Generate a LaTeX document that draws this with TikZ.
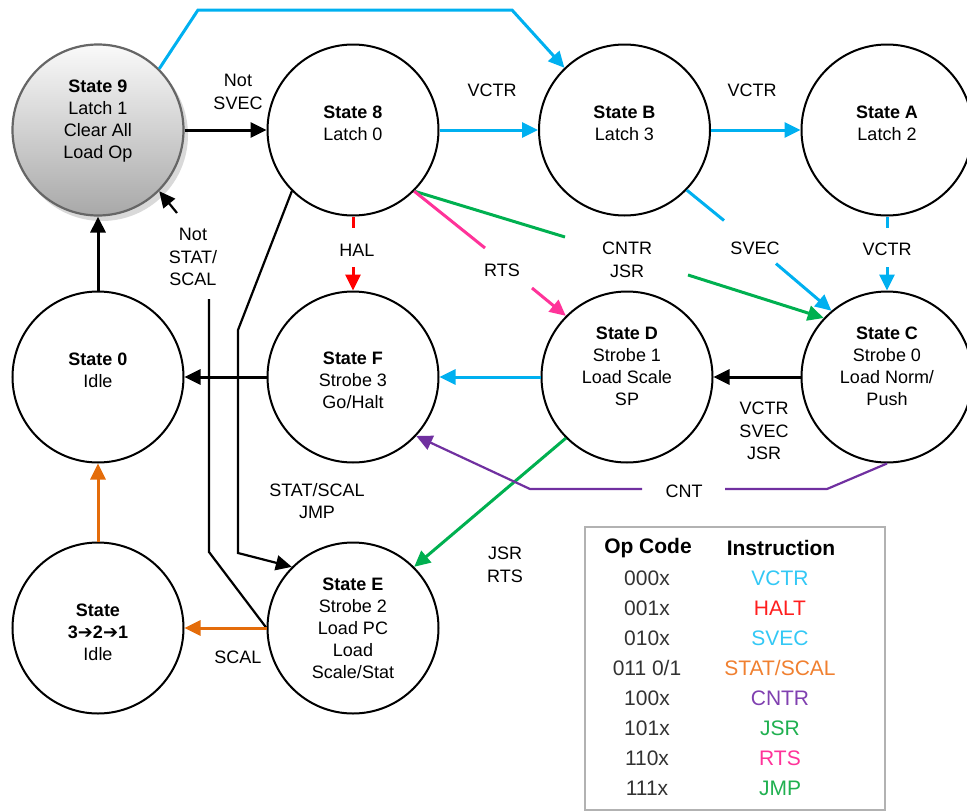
\documentclass[tikz,border=0pt]{standalone}
\usepackage{fontspec}
\setmainfont{Liberation Sans}
\newfontfamily\arrowfont{DejaVu Sans}
\usetikzlibrary{arrows.meta}

\definecolor{vblue}{RGB}{0,176,240}
\definecolor{hred}{RGB}{255,0,0}
\definecolor{rpink}{RGB}{255,51,153}
\definecolor{jgreen}{RGB}{0,176,80}
\definecolor{cpurple}{RGB}{112,48,160}
\definecolor{sorange}{RGB}{228,108,10}
\definecolor{tblue}{RGB}{51,200,245}
\definecolor{tred}{RGB}{255,30,30}
\definecolor{torange}{RGB}{240,128,48}
\definecolor{tpurple}{RGB}{128,64,176}
\definecolor{tgreen}{RGB}{32,176,80}
\definecolor{tpink}{RGB}{255,51,153}
\definecolor{tcode}{RGB}{50,50,50}

\begin{document}
\begin{tikzpicture}[x=1pt,y=-1pt,
  state/.style={circle,draw=black,line width=2pt,minimum size=171pt,inner sep=0pt},
  startstate/.style={state,draw=gray!80!black,line width=2.2pt,top color=gray!4,bottom color=gray!68},
  txt/.style={align=center,font=\fontsize{18}{22}\selectfont,inner sep=0pt},
  lab/.style={align=center,font=\fontsize{18}{22.5}\selectfont,inner sep=0pt},
  conn/.style={line width=3pt},
  thin conn/.style={line width=2.2pt},
  tip/.style={-{Triangle[length=16pt,width=15pt]}},
  arr/.style={conn,tip},
  head/.style={font=\fontsize{21}{24}\selectfont\bfseries,inner sep=0pt},
  cell/.style={font=\fontsize{21}{24}\selectfont,inner sep=0pt},
]
\useasboundingbox (0,0) rectangle (967,811);

% shadow under the start state
\fill[gray!30] (102,135) circle[radius=86pt];

% states
\node[startstate] (s9) at (98,130) {};
\node[state] (s8) at (353,130) {};
\node[state] (sB) at (624.5,130) {};
\node[state] (sA) at (887,130) {};
\node[state] (sC) at (887,377) {};
\node[state] (sD) at (627,377) {};
\node[state] (sF) at (353,377) {};
\node[state] (s0) at (98,377) {};
\node[state] (sE) at (353,628) {};
\node[state] (s321) at (98,628) {};

% state texts
\node[txt] (t9) at (98,121) {\textbf{State 9}\\Latch 1\\Clear All\\Load Op};
\node[txt] (t8) at (353,123) {\textbf{State 8}\\Latch 0};
\node[txt] (tB) at (624.5,123) {\textbf{State B}\\Latch 3};
\node[txt] (tA) at (887,123) {\textbf{State A}\\Latch 2};
\node[txt] (tC) at (887,366) {\textbf{State C}\\Strobe 0\\Load Norm/\\Push};
\node[txt] (tD) at (627,366) {\textbf{State D}\\Strobe 1\\Load Scale\\SP};
\node[txt] (tF) at (353,380) {\textbf{State F}\\Strobe 3\\Go/Halt};
\node[txt] (t0) at (98,370) {\textbf{State 0}\\Idle};
\node[txt] (tE) at (353,628) {\textbf{State E}\\Strobe 2\\Load PC\\Load\\Scale/Stat};
\node[txt] (t321) at (98,632) {\textbf{State}\\\textbf{3{\arrowfont\bfseries ➔}2{\arrowfont\bfseries ➔}1}\\Idle};

% break points where a label interrupts a line
\coordinate (a1) at (887,228);
\coordinate (a2) at (887,267);
\coordinate (b1) at (724,220.5);
\coordinate (b2) at (776,263.6);
\coordinate (g1) at (565,237);
\coordinate (g2) at (688,275);
\coordinate (p1) at (485,248);
\coordinate (p2) at (532,288);
\coordinate (h1) at (353,228);
\coordinate (h2) at (353,267);
\coordinate (c1) at (725,489);
\coordinate (c2) at (642,489);
\coordinate (n1) at (209,299);
\coordinate (n2) at (177,213);

% black transitions
\draw[arr] (s9.east) -- (s8.west);
\draw[arr] (sC.west) -- (sD.east);
\draw[arr] (sF.west) -- (s0.east);
\draw[arr] (s0.north) -- (s9.south);
\draw[thin conn,tip] (s8.-135) -- (238,330) -- (238,553) -- (sE.135);
\draw[thin conn] (sE.west) -- (209,552) -- (n1);
\draw[thin conn,tip] (n2) -- (s9.-45);

% VCTR / SVEC transitions
\draw[arr,vblue] (s9.45) -- (198,10) -- (512,10) -- (sB.134);
\draw[arr,vblue] (s8.east) -- (sB.west);
\draw[arr,vblue] (sB.east) -- (sA.west);
\draw[conn,vblue] (sA.south) -- (a1);
\draw[arr,vblue] (a2) -- (sC.north);
\draw[conn,vblue] (sB.-44) -- (b1);
\draw[arr,vblue] (b2) -- (sC.130);
\draw[arr,vblue] (sD.west) -- (sF.east);

% CNTR / JSR, RTS, HALT
\draw[conn,jgreen] (s8.-45) -- (g1);
\draw[arr,jgreen] (g2) -- (sC.137);
\draw[conn,rpink] (s8.-45) -- (p1);
\draw[arr,rpink] (p2) -- (sD.135);
\draw[conn,hred] (s8.south) -- (h1);
\draw[arr,hred] (h2) -- (sF.north);
\draw[arr,jgreen] (sD.-135) -- (sE.45);

% CNT
\draw[thin conn,cpurple] (sC.south) -- (827,489) -- (c1);
\draw[thin conn,cpurple,tip] (c2) -- (530,489) -- (sF.-43);

% STAT/SCAL
\draw[arr,sorange] (sE.west) -- (s321.east);
\draw[arr,sorange] (s321.north) -- (s0.south);

% transition labels
\node[lab] (l1) at (238,92) {Not\\SVEC};
\node[lab] (l2) at (492,90) {VCTR};
\node[lab] (l3) at (752,90) {VCTR};
\node[lab] (l4) at (887,249) {VCTR};
\node[lab] (l5) at (755,248) {SVEC};
\node[lab] (l6) at (627,260) {CNTR\\JSR};
\node[lab] (l7) at (502,270) {RTS};
\node[lab] (l8) at (357,250) {HAL};
\node[lab] (l9) at (764,431) {VCTR\\SVEC\\JSR};
\node[lab] (l10) at (684,491) {CNT};
\node[lab] (l11) at (193,257) {Not\\STAT/\\SCAL};
\node[lab] (l12) at (317,501) {STAT/SCAL\\JMP};
\node[lab] (l13) at (505,565) {JSR\\RTS};
\node[lab] (l14) at (238,657) {SCAL};

% op code table
\draw[gray!60,line width=1.4pt] (585,527) rectangle (885,810);
\node[head] (hc) at (648,548) {Op Code};
\node[head] (hi) at (781,548) {Instruction};
\foreach \code/\ins/\col [count=\i from 0] in
  {000x/VCTR/tblue, 001x/HALT/tred, 010x/SVEC/tblue, 011 0\slash 1/STAT\slash SCAL/torange,
   100x/CNTR/tpurple, 101x/JSR/tgreen, 110x/RTS/tpink, 111x/JMP/tgreen}{
  \node[cell,text=tcode] (oc\i) at (647,578+30*\i) {\code};
  \node[cell,text=\col] (in\i) at (780,578+30*\i) {\ins};
}
\end{tikzpicture}
\end{document}
